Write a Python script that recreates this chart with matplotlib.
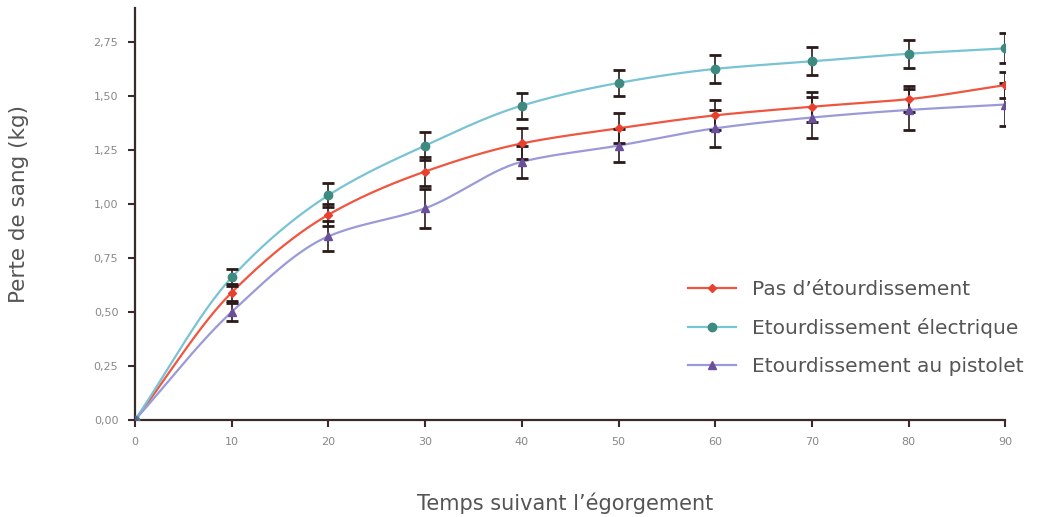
import numpy as np
import matplotlib
matplotlib.use("Agg")
import matplotlib.pyplot as plt
from matplotlib.lines import Line2D

times = [0, 10, 20, 30, 40, 50, 60, 70, 80, 90]
pas = [0.0, 0.59, 0.95, 1.15, 1.28, 1.35, 1.41, 1.45, 1.485, 1.55]
pas_err = [0.0, 0.04, 0.05, 0.065, 0.07, 0.07, 0.07, 0.07, 0.06, 0.06]
elec = [0.0, 0.66, 1.04, 1.27, 1.455, 1.56, 1.625, 1.66, 1.695, 1.72]
elec_err = [0.0, 0.04, 0.055, 0.065, 0.06, 0.06, 0.065, 0.065, 0.065, 0.07]
pist = [0.0, 0.50, 0.85, 0.98, 1.195, 1.27, 1.35, 1.40, 1.435, 1.46]
pist_err = [0.0, 0.04, 0.07, 0.09, 0.075, 0.075, 0.085, 0.095, 0.095, 0.10]
labels = ["Pas d\u2019étourdissement", "Etourdissement électrique", "Etourdissement au pistolet"]
yticks = [0, 0.25, 0.5, 0.75, 1.0, 1.25, 1.5, 1.75]
ytick_labels = ["0,00", "0,25", "0,50", "0,75", "1,00", "1,25", "1,50", "2,75"]
xticks = [0, 10, 20, 30, 40, 50, 60, 70, 80, 90]


def pchip(x, y, n=400):
    x = np.asarray(x, float)
    y = np.asarray(y, float)
    h = np.diff(x)
    d = np.diff(y) / h
    m = np.zeros_like(y)
    for k in range(1, len(y) - 1):
        if d[k - 1] * d[k] > 0:
            w1 = 2 * h[k] + h[k - 1]
            w2 = h[k] + 2 * h[k - 1]
            m[k] = (w1 + w2) / (w1 / d[k - 1] + w2 / d[k])
    m[0] = d[0]
    m[-1] = d[-1]
    xs = np.linspace(x[0], x[-1], n)
    idx = np.clip(np.searchsorted(x, xs) - 1, 0, len(x) - 2)
    t = (xs - x[idx]) / h[idx]
    h00 = 2 * t**3 - 3 * t**2 + 1
    h10 = t**3 - 2 * t**2 + t
    h01 = -2 * t**3 + 3 * t**2
    h11 = t**3 - t**2
    ys = h00 * y[idx] + h10 * h[idx] * m[idx] + h01 * y[idx + 1] + h11 * h[idx] * m[idx + 1]
    return xs, ys


fig = plt.figure(figsize=(10.43, 5.17), dpi=100)
ax = fig.add_axes([0.1294, 0.1876, 0.8345, 0.797])

series = [
    (pas, pas_err, "#f0553f", "#e8402e", "D", 4.5),
    (elec, elec_err, "#78c4d4", "#3d8a80", "o", 6),
    (pist, pist_err, "#9a9ad8", "#6a4f9a", "^", 6),
]
handles = []
for (vals, errs, lc, mc, mk, ms), lab in zip(series, labels):
    xs, ys = pchip(times, vals)
    ax.plot(xs, ys, color=lc, lw=1.6, zorder=2)
    ax.errorbar(times[1:], vals[1:], yerr=errs[1:], fmt="none", ecolor="#2a1a1a",
                elinewidth=1.2, capsize=4, capthick=2, zorder=3)
    ax.plot(times, vals, linestyle="none", marker=mk, color=mc, ms=ms, zorder=4)
    handles.append(Line2D([0], [0], color=lc, lw=1.6, marker=mk, markerfacecolor=mc,
                          markeredgecolor=mc, ms=ms))

ax.set_xlim(0, 90)
ax.set_ylim(0, 1.907)
ax.set_xticks(xticks)
ax.set_xticklabels([str(t) for t in xticks])
ax.set_yticks(yticks)
ax.set_yticklabels(ytick_labels)
for s in ["top", "right"]:
    ax.spines[s].set_visible(False)
for s in ["left", "bottom"]:
    ax.spines[s].set_color("#3a2a2a")
    ax.spines[s].set_linewidth(1.6)
ax.tick_params(axis="both", direction="out", length=5, width=1.5, color="#3a2a2a",
               labelsize=8, labelcolor="#888888", pad=7)

fig.text(0.018, 0.605, "Perte de sang (kg)", fontsize=15.5, color="#555555",
         ha="center", va="center", rotation=90)
fig.text(0.542, 0.027, "Temps suivant l\u2019égorgement", fontsize=15, color="#555555",
         ha="center", va="center")

leg = ax.legend(handles, labels, loc="upper left", bbox_to_anchor=(0.635, 0.34),
                frameon=False, fontsize=14.5, handlelength=2.4, labelspacing=0.95,
                handletextpad=0.8, borderaxespad=0, borderpad=0)
for t in leg.get_texts():
    t.set_color("#555555")

fig.savefig("out.png", dpi=100)
